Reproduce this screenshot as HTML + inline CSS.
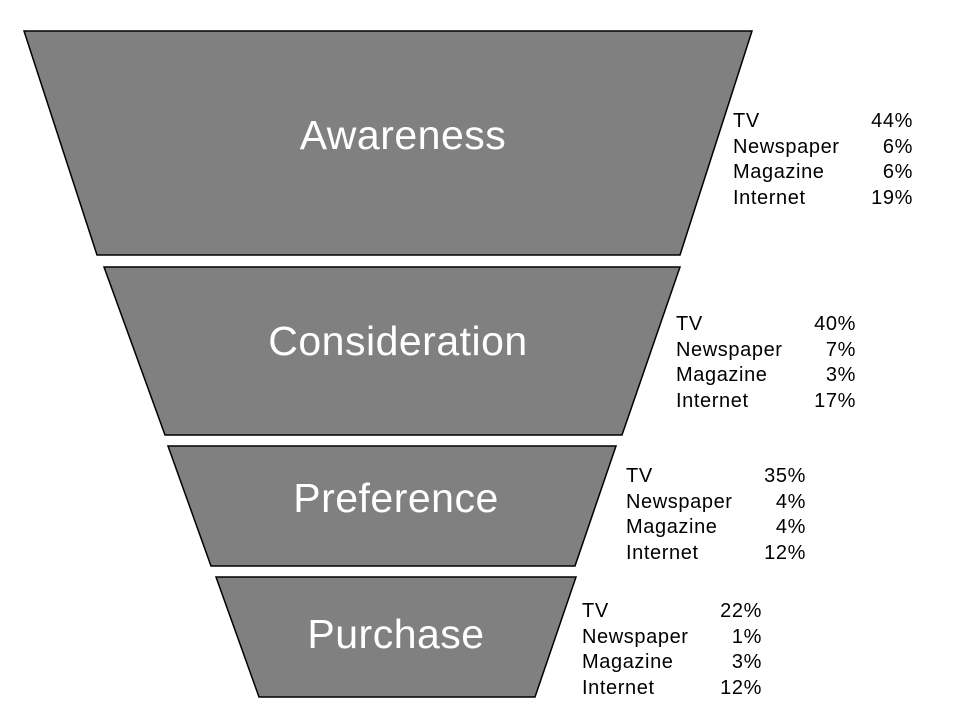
<!DOCTYPE html>
<html><head><style>
body{margin:0;background:#fff;}
svg text{font-family:"Liberation Sans",Arial,sans-serif;}
</style></head><body>
<svg width="960" height="720" xmlns="http://www.w3.org/2000/svg">
<g fill="#808080" stroke="#000" stroke-width="1.5">
<polygon points="24,31 752,31 680,255 97,255"/>
<polygon points="104,267 680,267 622,435 165,435"/>
<polygon points="168,446 616,446 575,566 211,566"/>
<polygon points="216,577 576,577 535,697 259,697"/>
</g>
<g fill="#fff" font-size="41" text-anchor="middle" letter-spacing="0.5">
<text x="403" y="149">Awareness</text>
<text x="398" y="355">Consideration</text>
<text x="396" y="512">Preference</text>
<text x="396" y="648">Purchase</text>
</g>
<g font-size="20" fill="#000" letter-spacing="0.6">
<text x="733" y="127">TV</text><text x="733" y="153">Newspaper</text><text x="733" y="178">Magazine</text><text x="733" y="204">Internet</text>
<g text-anchor="end"><text x="913" y="127">44%</text><text x="913" y="153">6%</text><text x="913" y="178">6%</text><text x="913" y="204">19%</text></g>
<text x="676" y="330">TV</text><text x="676" y="356">Newspaper</text><text x="676" y="381">Magazine</text><text x="676" y="407">Internet</text>
<g text-anchor="end"><text x="856" y="330">40%</text><text x="856" y="356">7%</text><text x="856" y="381">3%</text><text x="856" y="407">17%</text></g>
<text x="626" y="482">TV</text><text x="626" y="508">Newspaper</text><text x="626" y="533">Magazine</text><text x="626" y="559">Internet</text>
<g text-anchor="end"><text x="806" y="482">35%</text><text x="806" y="508">4%</text><text x="806" y="533">4%</text><text x="806" y="559">12%</text></g>
<text x="582" y="617">TV</text><text x="582" y="643">Newspaper</text><text x="582" y="668">Magazine</text><text x="582" y="694">Internet</text>
<g text-anchor="end"><text x="762" y="617">22%</text><text x="762" y="643">1%</text><text x="762" y="668">3%</text><text x="762" y="694">12%</text></g>
</g>
</svg>
</body></html>
